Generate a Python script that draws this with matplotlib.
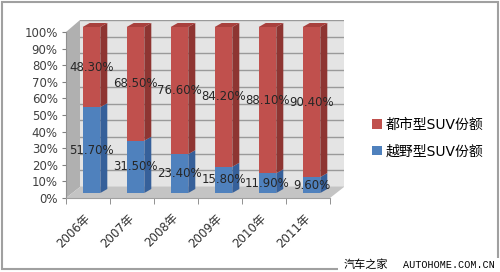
import matplotlib
matplotlib.use("Agg")
import matplotlib.pyplot as plt
import matplotlib.transforms as mtransforms
from matplotlib.patches import Polygon, Rectangle

plt.rcParams['font.family'] = ['DejaVu Sans', 'Noto Sans CJK SC']

years = ['2006年', '2007年', '2008年', '2009年', '2010年', '2011年']
offroad = [51.7, 31.5, 23.4, 15.8, 11.9, 9.6]     # 越野型SUV份额
urban = [48.3, 68.5, 76.6, 84.2, 88.1, 90.4]      # 都市型SUV份额
series_names = ['都市型SUV份额', '越野型SUV份额']

W, H = 500, 272
red, red_side, red_top = '#c0504d', '#8e3532', '#a8403d'
blue, blue_side = '#4f81bd', '#36609a'


def px(x, y):
    # pixel position (from top-left) -> figure fraction
    return (x / W, 1 - y / H)


fig = plt.figure(figsize=(W / 100, H / 100), dpi=100)

# back wall of the 3d chart
back = fig.add_axes([80 / W, 1 - 187 / H, 264 / W, 167 / H], zorder=0)
back.set_facecolor('#e4e4e4')
back.set_xlim(0, 1)
back.set_ylim(0, 100)
back.set_yticks(range(0, 101, 10))
back.grid(axis='y', color='#9a9a9a', lw=1.0)
back.tick_params(left=False, bottom=False, labelleft=False, labelbottom=False)
for s in back.spines.values():
    s.set_visible(False)

# left wall and floor
left_wall = Polygon([px(66, 32), px(80, 20), px(80, 187), px(66, 198)], closed=True,
                    transform=fig.transFigure, facecolor='#b0b0b0', edgecolor='none', zorder=0.5)
floor = Polygon([px(66, 198), px(330, 198), px(344, 187), px(80, 187)], closed=True,
                transform=fig.transFigure, facecolor='#c4c4c4', edgecolor='none', zorder=0.5)
fig.add_artist(left_wall)
fig.add_artist(floor)

# front plane axes
ax = fig.add_axes([66 / W, 1 - 198 / H, 264 / W, 166 / H], zorder=1)
ax.set_facecolor('none')
ax.set_xlim(-0.5, 5.5)
ax.set_ylim(0, 100)

shift = mtransforms.offset_copy(ax.transData, fig=fig, x=3.5, y=5, units='dots')
x = list(range(len(years)))
w = 0.4
dx = 7 / 44
dy = 4 / 1.66

b1 = ax.bar(x, offroad, w, color=blue, transform=shift, clip_on=False, zorder=3)
b2 = ax.bar(x, urban, w, bottom=offroad, color=red, transform=shift, clip_on=False, zorder=3)

for i in x:
    l, r = i - w / 2, i + w / 2
    o, top = offroad[i], offroad[i] + urban[i]
    ax.add_patch(Polygon([(r, 0), (r + dx, dy), (r + dx, o + dy), (r, o)],
                         transform=shift, facecolor=blue_side, edgecolor='none', clip_on=False, zorder=3))
    ax.add_patch(Polygon([(r, o), (r + dx, o + dy), (r + dx, top + dy), (r, top)],
                         transform=shift, facecolor=red_side, edgecolor='none', clip_on=False, zorder=3))
    ax.add_patch(Polygon([(l, top), (l + dx, top + dy), (r + dx, top + dy), (r, top)],
                         transform=shift, facecolor=red_top, edgecolor='none', clip_on=False, zorder=3))
    ax.text(i, o / 2, '%.2f%%' % offroad[i], transform=shift, ha='center', va='center',
            fontsize=8.5, color='#262626', zorder=5)
    ax.text(i, o + urban[i] / 2, '%.2f%%' % urban[i], transform=shift, ha='center', va='center',
            fontsize=8.5, color='#262626', zorder=5)

ax.set_yticks(range(0, 101, 10))
ax.set_yticklabels(['%d%%' % v for v in range(0, 101, 10)])
ax.tick_params(axis='y', length=3, color='#808080', labelsize=8.5, labelcolor='#404040', pad=3)
ax.set_xticks(x)
ax.set_xticklabels(years, rotation=45, ha='right', va='center', rotation_mode='anchor')
ax.tick_params(axis='x', which='major', length=0, labelsize=8.5, labelcolor='#303030', pad=13)
ax.set_xticks([v - 0.5 for v in range(len(years) + 1)], minor=True)
ax.tick_params(axis='x', which='minor', length=4, color='#808080')
for s in ['top', 'right']:
    ax.spines[s].set_visible(False)
ax.spines['left'].set_color('#909090')
ax.spines['bottom'].set_color('#a0a0a0')

ax.legend([b2, b1], series_names, loc='center left', bbox_to_anchor=(372 / W, 1 - 138 / H),
          bbox_transform=fig.transFigure, frameon=False, fontsize=10, handlelength=0.7,
          handleheight=0.7, handletextpad=0.3, labelspacing=0.9, borderpad=0, borderaxespad=0)

# outer border and watermark
fig.add_artist(Rectangle(px(2, 269), 496 / W, 267 / H, transform=fig.transFigure,
                         fill=False, edgecolor='#a0a0a0', lw=1.5, zorder=0.2))
fig.add_artist(Rectangle(px(338, 272), 162 / W, 14 / H, transform=fig.transFigure,
                         facecolor='white', edgecolor='none', zorder=0.3))
fig.text(*px(344, 265), '汽车之家', family=['Noto Sans CJK SC'], fontsize=8, va='center',
         ha='left', color='black')
fig.text(*px(403, 265), 'AUTOHOME.COM.CN', family=['Liberation Mono'], fontsize=7.3, va='center',
         ha='left', color='black')

fig.savefig('out.png', dpi=100)
